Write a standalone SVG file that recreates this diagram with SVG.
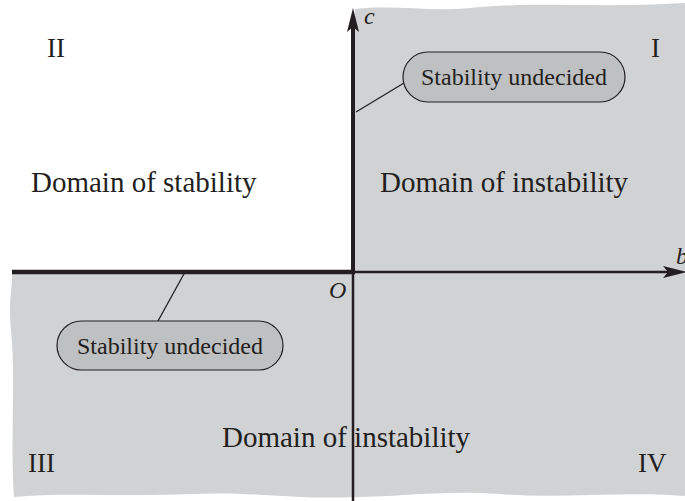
<svg xmlns="http://www.w3.org/2000/svg" width="685" height="501" viewBox="0 0 685 501">
<style>
.t{font-family:"Liberation Serif","Times New Roman",serif;fill:#231f20}
.lbl{font-size:29px}
.num{font-size:27px}
.it{font-style:italic;font-size:24px}
.bub{fill:#bfc0c2;stroke:#231f20;stroke-width:1.2}
.bt{font-size:24px}
.lead{stroke:#231f20;stroke-width:1.3;fill:none}
</style>
<rect width="685" height="501" fill="#ffffff"/>
<path id="region" d="M355,9 C400,4 430,13 480,7 C540,2 600,8 685,3 L685,496 C620,491 560,499 500,494 C440,490 400,497 355,497 C300,500 250,491 190,494 C120,497 60,492 14,497 C10,440 16,380 11,330 C8,300 13,285 12,272 L355,272 Z" fill="#d1d2d4"/>
<g id="connectors">
<line class="lead" x1="356" y1="112" x2="404" y2="83"/>
<line class="lead" x1="185" y1="272" x2="158" y2="321"/>
</g>
<g id="axes">
<line x1="353" y1="26" x2="353" y2="272" stroke="#231f20" stroke-width="4"/>
<line x1="353" y1="272" x2="353" y2="501" stroke="#231f20" stroke-width="2.5"/>
<line x1="12" y1="272" x2="355" y2="272" stroke="#231f20" stroke-width="4.5"/>
<line x1="353" y1="272" x2="670" y2="272" stroke="#231f20" stroke-width="2.5"/>
<path d="M353,8 L359,32 L353,27 L347,32 Z" fill="#231f20"/>
<path d="M687,272 L663,278 L668,272 L663,266 Z" fill="#231f20"/>
<text class="t it" x="364" y="24">c</text>
<text class="t it" x="676" y="264">b</text>
<text class="t it" x="329" y="298">O</text>
</g>
<g id="quadrants">
<text class="t num" x="47" y="57">II</text>
<text class="t num" x="651" y="57">I</text>
<text class="t num" x="28" y="472">III</text>
<text class="t num" x="638" y="472">IV</text>
</g>
<g id="domain-stability">
<text class="t lbl" x="31" y="192">Domain of stability</text>
</g>
<g id="domain-instability-1">
<text class="t lbl" x="380" y="192">Domain of instability</text>
</g>
<g id="domain-instability-2">
<text class="t lbl" x="222" y="447">Domain of instability</text>
</g>
<g id="undecided-1">
<rect class="bub" x="403" y="52" width="222" height="50" rx="25"/>
<text class="t bt" x="514" y="85" text-anchor="middle">Stability undecided</text>
</g>
<g id="undecided-2">
<rect class="bub" x="57" y="321" width="226" height="49" rx="24.5"/>
<text class="t bt" x="170" y="354" text-anchor="middle">Stability undecided</text>
</g>
</svg>
